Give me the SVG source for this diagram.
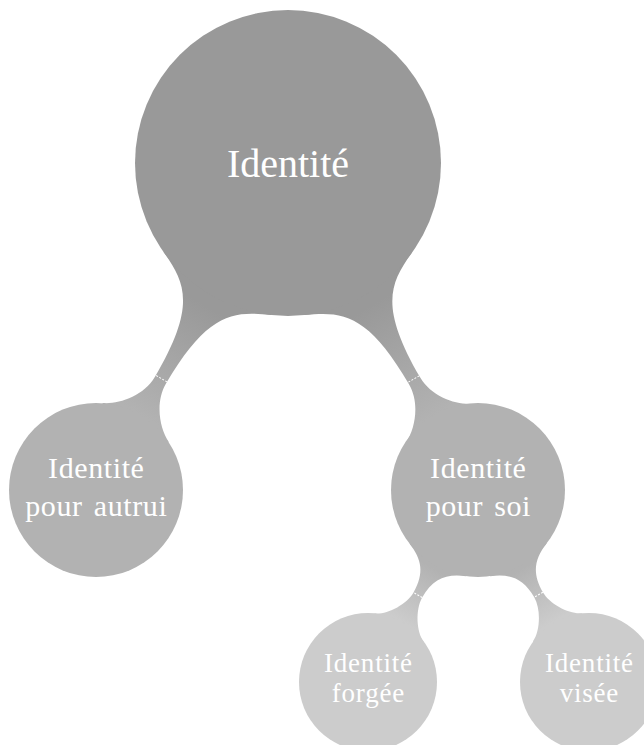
<svg xmlns="http://www.w3.org/2000/svg" width="644" height="745" viewBox="0 0 644 745">
  <style>
    .t { font-family: "Liberation Serif", "Times New Roman", serif; fill: #ffffff; text-anchor: middle; }
    .t0 { font-size: 40px; }
    .t1 { font-size: 30px; letter-spacing: 0.6px; word-spacing: 3px; }
    .t2 { font-size: 27px; letter-spacing: 0.8px; }
    .c0 { fill: #999999; }
    .c1 { fill: #b2b2b2; }
    .c2 { fill: #cccccc; }
    .dash { stroke: #ffffff; stroke-width: 1; stroke-dasharray: 2 1.5; fill: none; }
  </style>
  <defs>
    <linearGradient id="g1" gradientUnits="userSpaceOnUse" x1="165" y1="0" x2="292" y2="0">
      <stop offset="0" stop-color="#999999"/>
      <stop offset="1" stop-color="#b2b2b2"/>
    </linearGradient>
    <linearGradient id="g2" gradientUnits="userSpaceOnUse" x1="90" y1="0" x2="152" y2="0">
      <stop offset="0" stop-color="#b2b2b2"/>
      <stop offset="1" stop-color="#cccccc"/>
    </linearGradient>
    <path id="bar1" fill="url(#g1)" d="M 139.8,62.2 C 155.3,27.5 170,6.5 252,6.5 C 274,6.5 293.8,23.7 300.8,38.1 L 320,38.1 L 320,-38.1 L 300.8,-38.1 C 293.8,-23.7 274,-6.5 252,-6.5 C 170,-6.5 155.3,-27.5 139.8,-62.2 L 120,-62.2 L 120,62.2 Z"/>
    <path id="bar2" fill="url(#g2)" d="M 80.7,32.6 C 88.2,14.1 99,5 121,5 C 135,5 153.6,17.1 158.5,28.1 L 175,28.1 L 175,-28.1 L 158.5,-28.1 C 153.6,-17.1 135,-5 121,-5 C 99,-5 88.2,-14.1 80.7,-32.6 L 65,-32.6 L 65,32.6 Z"/>
  </defs>

  <g id="connectors">
    <g transform="translate(288,163) rotate(120.42)">
      <use href="#bar1"/>
      <line class="dash" x1="250" y1="-6.5" x2="250" y2="6.5"/>
    </g>
    <g transform="translate(288,163) rotate(59.84)">
      <use href="#bar1"/>
      <line class="dash" x1="250" y1="-6.5" x2="250" y2="6.5"/>
    </g>
    <g transform="translate(478,490) rotate(119.81)">
      <use href="#bar2"/>
      <line class="dash" x1="121" y1="-5" x2="121" y2="5"/>
    </g>
    <g transform="translate(478,490) rotate(59.97)">
      <use href="#bar2"/>
      <line class="dash" x1="121" y1="-5" x2="121" y2="5"/>
    </g>
  </g>

  <g id="node-identite">
    <circle class="c0" cx="288" cy="163" r="153"/>
    <text class="t t0" x="288" y="177">Identité</text>
  </g>
  <g id="node-pour-autrui">
    <circle class="c1" cx="96" cy="490" r="87"/>
    <text class="t t1" x="96.3" y="478">Identité</text>
    <text class="t t1" x="96.3" y="516">pour autrui</text>
  </g>
  <g id="node-pour-soi">
    <circle class="c1" cx="478" cy="490" r="87"/>
    <text class="t t1" x="478.3" y="478">Identité</text>
    <text class="t t1" x="478.3" y="516">pour soi</text>
  </g>
  <g id="node-forgee">
    <circle class="c2" cx="368" cy="682" r="69"/>
    <text class="t t2" x="368.4" y="672">Identité</text>
    <text class="t t2" x="368.4" y="702">forgée</text>
  </g>
  <g id="node-visee">
    <circle class="c2" cx="589" cy="682" r="69"/>
    <text class="t t2" x="589.4" y="672">Identité</text>
    <text class="t t2" x="589.4" y="702">visée</text>
  </g>
</svg>
